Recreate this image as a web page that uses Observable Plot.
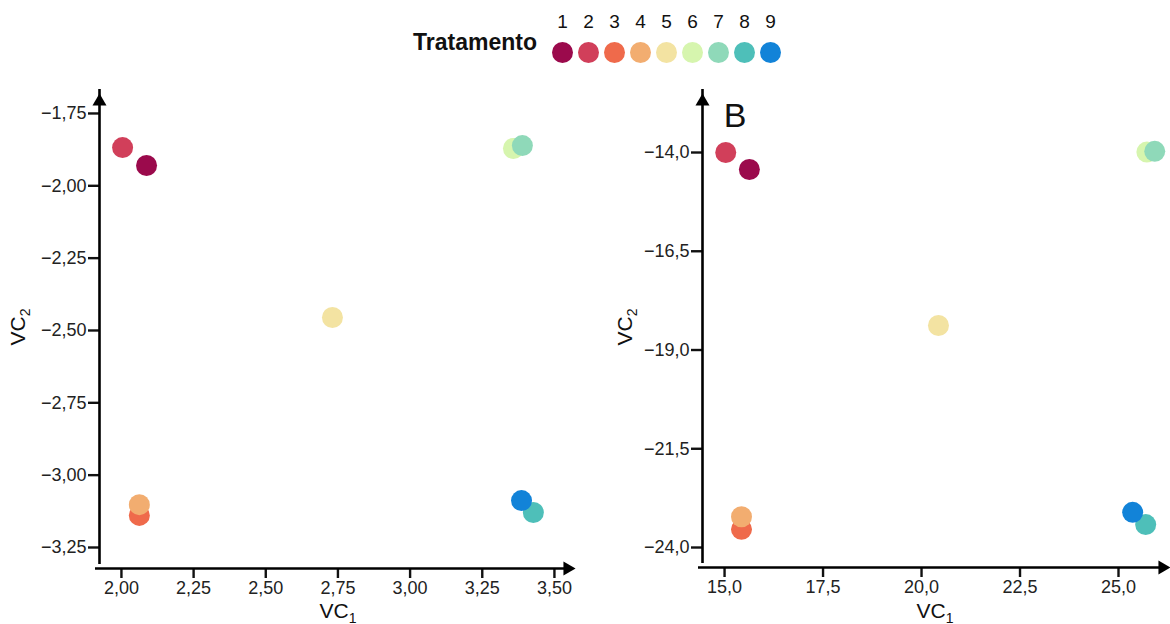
<!DOCTYPE html>
<html><head><meta charset="utf-8">
<script src="https://cdn.jsdelivr.net/npm/d3@7"></script>
<script src="https://cdn.jsdelivr.net/npm/@observablehq/plot@0.6"></script>
<style>
body{margin:0;background:#fff;font-family:"Liberation Sans",Arial,sans-serif;}
#root{position:relative;width:1170px;height:624px;overflow:hidden;background:#fff}
.abs{position:absolute}
.lbl{font-size:21px;color:#111;white-space:nowrap;line-height:1}
.lbl sub{font-size:14px;vertical-align:-5px;line-height:1}
</style></head><body><div id="root"></div>
<script>
// ---- data ----
const treatments = [1, 2, 3, 4, 5, 6, 7, 8, 9];
const colors = ["#9b0a4c", "#d13f5a", "#ef6a4b", "#f2ad70", "#f3e3a2", "#d6f5ae", "#8fd9b9", "#4ebfb9", "#1283d8"];
// Panel A
const vc1A = [2.087, 2.004, 2.062, 2.062, 2.731, 3.358, 3.389, 3.427, 3.386];
const vc2A = [-1.930, -1.868, -3.139, -3.102, -2.455, -1.871, -1.861, -3.129, -3.088];
// Panel B
const vc1B = [15.63, 15.03, 15.43, 15.43, 20.43, 25.72, 25.92, 25.69, 25.36];
const vc2B = [-14.43, -14.00, -23.54, -23.22, -18.38, -13.99, -13.97, -23.42, -23.11];
// ticks
const ticksXA = [2.00, 2.25, 2.50, 2.75, 3.00, 3.25, 3.50];
const ticksYA = [-1.75, -2.00, -2.25, -2.50, -2.75, -3.00, -3.25];
const ticksXB = [15.0, 17.5, 20.0, 22.5, 25.0];
const ticksYB = [-14.0, -16.5, -19.0, -21.5, -24.0];
const legendTitle = "Tratamento";
const panelTag = "B";

const FONT = "Liberation Sans, Arial, Helvetica, sans-serif";
const root = document.getElementById("root");

function panel({xs, ys, xDomain, yDomain, xTicks, yTicks, digits, width, height, margins}) {
  const data = treatments.map((t, i) => ({t, x: xs[i], y: ys[i]}));
  const fmt = v => d3.format(`.${digits}f`)(v).replace(".", ",").replace("-", "\u2212");
  return Plot.plot({
    width, height, ...margins,
    style: {fontFamily: FONT, fontSize: "18px", background: "transparent", overflow: "visible", color: "#111"},
    x: {domain: xDomain, axis: null},
    y: {domain: yDomain, axis: null},
    color: {domain: treatments, range: colors},
    marks: [
      Plot.axisX(xTicks, {tickSize: 10, strokeWidth: 2.4, tickFormat: fmt, fontSize: 18, tickPadding: 3, label: null, fill: "#222"}),
      Plot.axisY(yTicks, {tickSize: 11, strokeWidth: 2.4, tickFormat: fmt, fontSize: 18, tickPadding: 2, label: null, fill: "#222"}),
      Plot.ruleX([xDomain[0]], {y1: yDomain[0], y2: yDomain[1], strokeWidth: 2.6, stroke: "#000", dy: -4}),
      Plot.ruleY([yDomain[0]], {x1: xDomain[0], x2: xDomain[1], strokeWidth: 2.6, stroke: "#000", dx: -4}),
      Plot.dot([0], {x: xDomain[0], y: yDomain[1], symbol: "triangle", fill: "#000", r: 5.2, dy: 8}),
      Plot.dot([0], {x: xDomain[1], y: yDomain[0], symbol: "triangle", rotate: 90, fill: "#000", r: 5.2, dx: -8}),
      Plot.dot(data, {x: "x", y: "y", r: 10.5, fill: "t"})
    ]
  });
}

function place(el, left, top) {
  el.classList.add("abs");
  el.style.left = left + "px";
  el.style.top = top + "px";
  root.appendChild(el);
}

const pA = panel({xs: vc1A, ys: vc2A, xDomain: [1.924, 3.573], yDomain: [-3.3226, -1.681],
  xTicks: ticksXA, yTicks: ticksYA, digits: 2, width: 590, height: 624,
  margins: {marginTop: 93, marginBottom: 56, marginLeft: 99, marginRight: 15}});
place(pA, 0, 0);

const pB = panel({xs: vc1B, ys: vc2B, xDomain: [14.44, 26.32], yDomain: [-24.506, -12.506],
  xTicks: ticksXB, yTicks: ticksYB, digits: 1, width: 570, height: 624,
  margins: {marginTop: 93, marginBottom: 57, marginLeft: 102, marginRight: 0}});
place(pB, 600, 0);

// legend
const legend = Plot.plot({
  width: 235, height: 70, marginTop: 0, marginBottom: 0, marginLeft: 14, marginRight: 8,
  style: {fontFamily: FONT, fontSize: "19px", background: "transparent", overflow: "visible", color: "#111"},
  x: {type: "point", domain: treatments, padding: 0, axis: null},
  color: {domain: treatments, range: colors},
  marks: [
    Plot.dot(treatments, {x: d => d, fill: d => d, r: 10.5, dy: 17}),
    Plot.text(treatments, {x: d => d, text: d => String(d), fontSize: 19, dy: -14, fill: "#111"})
  ]
});
place(legend, 545, 0);

function label(html, cx, cy, rotate, cls) {
  const d = document.createElement("div");
  d.className = cls || "lbl";
  d.innerHTML = html;
  d.style.transform = `translate(-50%,-50%)` + (rotate ? ` rotate(${rotate}deg)` : "");
  place(d, cx, cy);
  return d;
}
const t = label(legendTitle, 475, 42, 0);
t.style.fontWeight = "bold"; t.style.fontSize = "23px";
const b = label(panelTag, 735, 115, 0);
b.style.fontSize = "34px";
label("VC<sub>1</sub>", 338, 612, 0);
label("VC<sub>1</sub>", 935, 612, 0);
label("VC<sub>2</sub>", 19, 327, -90);
label("VC<sub>2</sub>", 626, 327, -90);
</script></body></html>
